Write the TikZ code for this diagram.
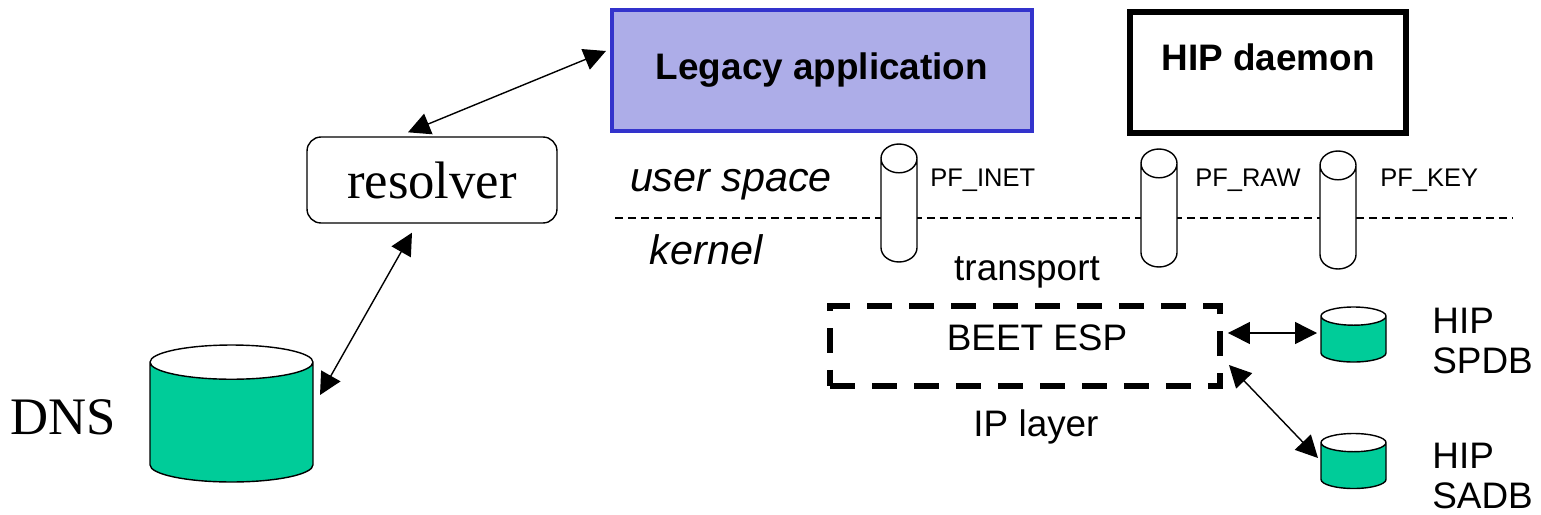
\documentclass[tikz,border=0pt]{standalone}
\usepackage{fontspec}
\setmainfont{Liberation Sans}
\newfontfamily\timesfont{Liberation Serif}
\usetikzlibrary{arrows.meta, shapes, positioning, calc}

\definecolor{appfill}{HTML}{ADADE8}
\definecolor{appedge}{HTML}{3333CC}
\definecolor{dbgreen}{HTML}{00CC99}

\begin{document}
\begin{tikzpicture}[
    x=0.02cm, y=-0.02cm,
    appbox/.style={rectangle, draw, minimum width=8.4cm, minimum height=2.42cm, inner sep=0pt, font=\fontsize{21}{25}\selectfont\bfseries},
    resbox/.style={rectangle, draw, rounded corners=0.28cm, line width=0.8pt, minimum width=5cm, minimum height=1.72cm, font=\timesfont\fontsize{30}{34}\selectfont},
    sock/.style={cylinder, shape border rotate=90, anchor=shape center, draw, fill=white, line width=0.8pt, shape aspect=0.8, minimum width=0.72cm, minimum height=2.36cm, inner ysep=0pt, inner xsep=0.36cm},
    db/.style={cylinder, shape border rotate=90, anchor=shape center, draw, line width=0.8pt, cylinder uses custom fill, cylinder body fill=dbgreen, cylinder end fill=white, inner ysep=0pt},
    lbl/.style={font=\fontsize{21}{24}\selectfont, inner sep=0pt},
    small/.style={font=\fontsize{14.5}{17}\selectfont, inner sep=0pt, anchor=west},
    layer/.style={font=\fontsize{23.5}{27}\selectfont\itshape, inner sep=0pt},
    arrow/.style={<->, >={Triangle[length=0.44cm, width=0.44cm]}, line width=0.8pt}
]
\useasboundingbox (0,0) rectangle (1541,514);

% user space / kernel border
\coordinate (sepL) at (615,218);
\coordinate (sepR) at (1512,218);
\draw[line width=0.75pt, dash pattern=on 0.16cm off 0.1cm] (sepL) -- (sepR);

% Applications
\node[appbox, draw=appedge, fill=appfill, line width=2.4pt] (legacy) at (822,70.5) {Legacy application};
\node[appbox, line width=3.2pt, minimum width=5.52cm, text depth=0.6cm] (hipd) at (1268,72.5) {HIP daemon};

\node[resbox] (resolver) at (432,180) {resolver};

\node[layer] (userspace) at (731,185) {user space};
\node[layer] (kernel) at (706,250) {kernel};

% Sockets
\node[sock] (inet) at (899,203) {};
\node[sock] (raw) at (1159,208) {};
\node[sock] (key) at (1338,210) {};
\node[small] (inetlbl) at (930,180) {PF\_INET};
\node[small] (rawlbl) at (1195,180) {PF\_RAW};
\node[small] (keylbl) at (1380,180) {PF\_KEY};

% Kernel parts
\node[lbl] (transport) at (1027,272) {transport};
\node[lbl, draw, line width=3.4pt, dash pattern=on 0.5cm off 0.34cm, minimum width=7.8cm, minimum height=1.6cm] (beet) at (1025,346) {};
\node[lbl] (beetlbl) at (1037,338) {BEET ESP};
\node[lbl] (iplayer) at (1036,427) {IP layer};

% Databases
\node[db, shape aspect=0.21, inner xsep=1.63cm, minimum width=3.26cm, minimum height=2.74cm] (dns) at (231.5,413.5) {};
\node[font=\timesfont\fontsize{30}{34}\selectfont, inner sep=0pt] (dnslbl) at (63,417) {DNS};
\node[db, shape aspect=0.28, inner xsep=0.65cm, minimum width=1.3cm, minimum height=1.1cm] (spdb) at (1353.5,334.5) {};
\node[db, shape aspect=0.28, inner xsep=0.65cm, minimum width=1.3cm, minimum height=1.1cm] (sadb) at (1353.5,461) {};
\node[lbl, align=left, anchor=west, font=\fontsize{21}{22.5}\selectfont] (spdblbl) at (1432,341) {HIP\\SPDB};
\node[lbl, align=left, anchor=west, font=\fontsize{21}{22.5}\selectfont] (sadblbl) at (1432,476) {HIP\\SADB};

% Arrows
\draw[arrow] ($(resolver.north)+(-24,-4)$) -- ($(legacy.west)+(-4,-19.5)$);
\draw[arrow] ($(resolver.south)+(-20,9)$) -- ($(dns.shape center)+(88.5,-18.5)$);
\draw[arrow] ($(beet.east)+(5,-13)$) -- ($(spdb.shape center)+(-36.5,-1.5)$);
\draw[arrow] ($(beet.east)+(6,19)$) -- ($(sadb.shape center)+(-35.5,-3)$);
\end{tikzpicture}
\end{document}
